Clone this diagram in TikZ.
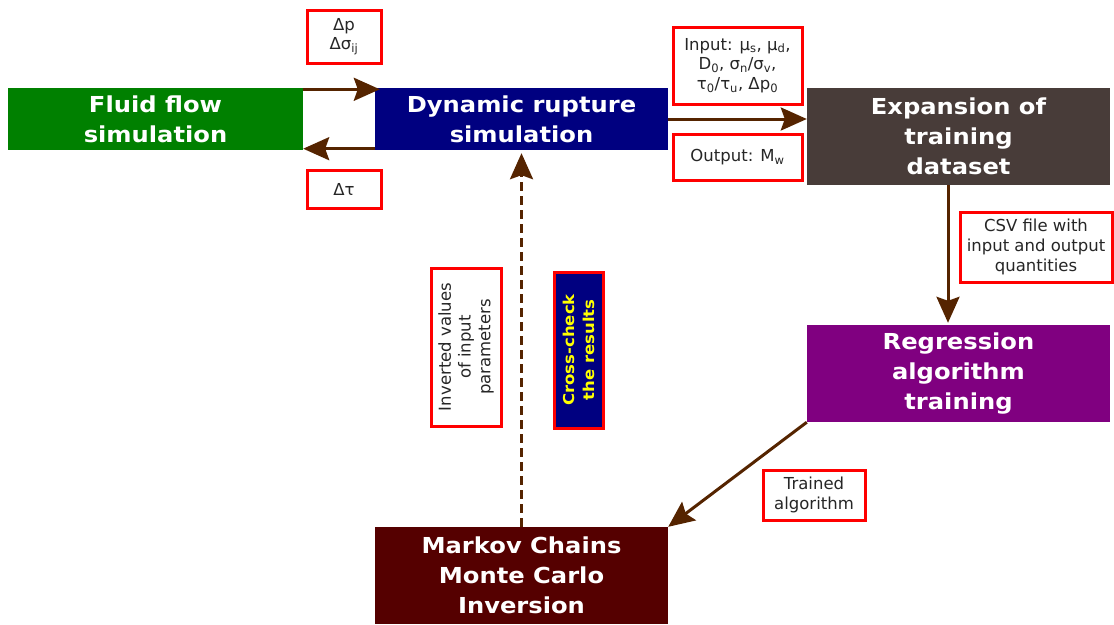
\documentclass[tikz,border=0pt]{standalone}
\usepackage{fontspec}
\setmainfont{DejaVu Sans}
\newfontfamily\widebold[FakeStretch=1.1]{DejaVu Sans Bold}
\usetikzlibrary{arrows.meta}
\definecolor{cgreen}{RGB}{0,128,0}
\definecolor{cnavy}{RGB}{0,0,128}
\definecolor{cexp}{RGB}{72,60,57}
\definecolor{cpurple}{RGB}{128,0,128}
\definecolor{cmarkov}{RGB}{85,0,0}
\definecolor{carrow}{RGB}{85,36,0}
\definecolor{cyel}{RGB}{255,255,0}
\definecolor{cred}{RGB}{255,0,0}
\tikzset{
  mainbox/.style={inner sep=0pt, text=white, font=\widebold\fontsize{22}{30}\selectfont, align=center},
  lab/.style={draw=cred, line width=3pt, fill=white, inner sep=0pt, align=center, text=black!85, font=\fontsize{16.5}{19.8}\selectfont},
  conn/.style={draw=carrow, line width=3pt, -{Stealth[length=26pt,width=23pt,inset=4pt]}},
}
\begin{document}
\begin{tikzpicture}[x=1pt,y=-1pt]
\useasboundingbox (0,0) rectangle (1114,624);
% main boxes
\node[mainbox, fill=cgreen, minimum width=295pt, minimum height=62pt] (fluid) at (155.5,119) {Fluid flow\\simulation};
\node[mainbox, fill=cnavy, minimum width=293pt, minimum height=62pt] (dyn) at (521.5,119) {Dynamic rupture\\simulation};
\node[mainbox, fill=cexp, minimum width=303pt, minimum height=97pt] (exp) at (958.5,136.5) {Expansion of\\training\\dataset};
\node[mainbox, fill=cpurple, minimum width=303pt, minimum height=97pt] (reg) at (958.5,373.5) {Regression\\algorithm\\training};
\node[mainbox, fill=cmarkov, minimum width=293pt, minimum height=97pt] (mk) at (521.5,575.5) {Markov Chains\\Monte Carlo\\Inversion};
% connectors
\draw[conn] ([yshift=-1.5pt]fluid.north east) -- ([yshift=-1.5pt,xshift=5pt]dyn.north west);
\draw[conn] ([yshift=1.5pt]dyn.south west) -- ([yshift=1.5pt]fluid.south east);
\draw[conn] (dyn.east) -- (exp.west |- dyn.east);
\draw[conn] ([xshift=-10.5pt]exp.south) -- ([xshift=-10.5pt,yshift=2pt]reg.north);
\draw[conn] (reg.south west) -- (mk.north east);
\draw[conn, dash pattern=on 9pt off 5pt] (mk.north) -- ([yshift=-3pt]dyn.south);
% labels
\node[lab, minimum width=74pt, minimum height=53pt] (ldp) at (344,36.5) {Δp\\Δσ\textsubscript{ij}};
\node[lab, minimum width=74pt, minimum height=38pt] (ltau) at (344,189) {Δτ};
\node[lab, minimum width=129pt, minimum height=77pt] (lin) at (737.5,65.5) {Input: μ\textsubscript{s}, μ\textsubscript{d},\\D\textsubscript{0}, σ\textsubscript{n}/σ\textsubscript{v},\\τ\textsubscript{0}/τ\textsubscript{u}, Δp\textsubscript{0}};
\node[lab, minimum width=129pt, minimum height=46pt] (lout) at (737.5,157) {Output: M\textsubscript{w}};
\node[lab, minimum width=152pt, minimum height=70pt] (lcsv) at (1036,247) {CSV file with\\input and output\\quantities};
\node[lab, rotate=90, minimum width=158pt, minimum height=70pt] (linv) at (466,347) {Inverted values\\of input\\parameters};
\node[lab, rotate=90, fill=cnavy, text=cyel, font=\widebold\fontsize{15}{20}\selectfont, minimum width=156pt, minimum height=49pt] (lcross) at (578.5,350) {Cross-check\\the results};
\node[lab, minimum width=102pt, minimum height=50pt] (ltr) at (814,495) {Trained\\algorithm};
\end{tikzpicture}
\end{document}
